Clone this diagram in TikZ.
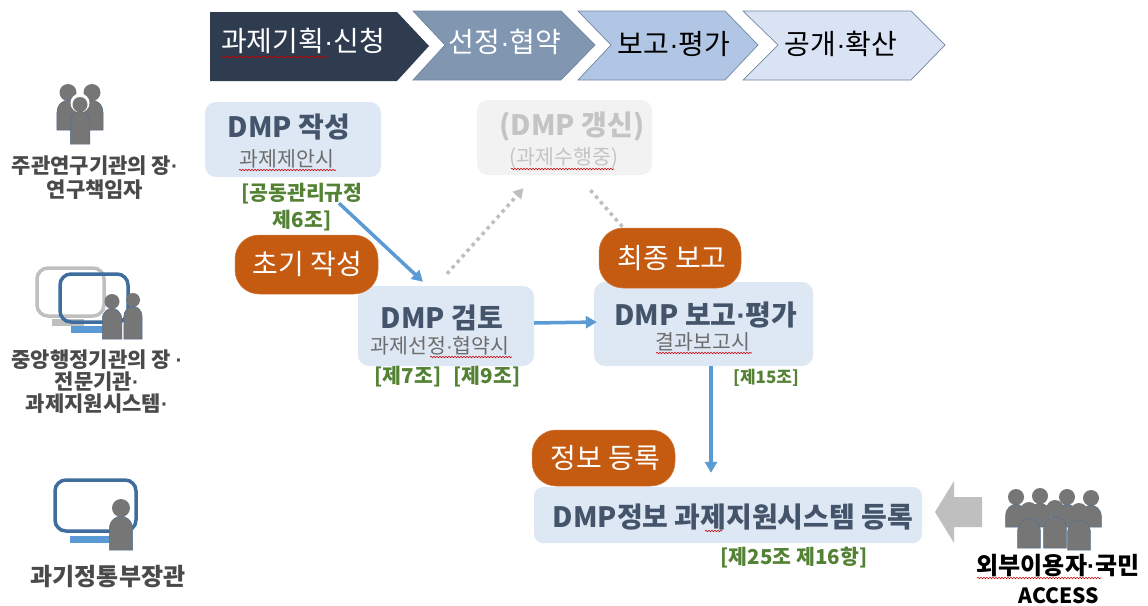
\documentclass[tikz,border=0pt]{standalone}
\usepackage{fontspec}
\setmainfont{Noto Sans CJK KR}
\newfontfamily\latf{Liberation Sans}
\newcommand{\dt}{{\latf ·}}
\usetikzlibrary{calc,arrows.meta,decorations.pathmorphing}
\definecolor{chA}{HTML}{2F3C50}
\definecolor{chB}{HTML}{8096B1}
\definecolor{chC}{HTML}{B1C5E4}
\definecolor{chD}{HTML}{D9E3F4}
\definecolor{chLine}{HTML}{71889F}
\definecolor{boxBlue}{HTML}{DEE8F4}
\definecolor{boxGray}{HTML}{F2F2F2}
\definecolor{orangeP}{HTML}{C55A11}
\definecolor{greenL}{HTML}{548235}
\definecolor{slate}{HTML}{44546A}
\definecolor{arrowB}{HTML}{5B9BD5}
\definecolor{grayA}{HTML}{BFBFBF}
\definecolor{grayT}{HTML}{C4C4C4}
\definecolor{iconG}{HTML}{767676}
\definecolor{frameB}{HTML}{3F6E9E}
\definecolor{labelG}{HTML}{4A4A4A}
\newcommand{\fs}[1]{\fontsize{#1}{#1}\selectfont}
\newcommand{\squig}[3]{\draw[red!80!black,line width=0.6pt,decorate,decoration={snake,amplitude=0.7,segment length=3}] (#1,#3) -- (#2,#3);}
\newcommand{\person}[4]{% cx, top of head, head radius, bottom
  \fill[iconG] (#1,#2+#3) circle[radius=#3];
  \fill[iconG,draw=frameB!70!iconG,line width=0.5pt] (#1-#3*1.3,#4) -- (#1-#3*1.3,#2+#3*3.4) .. controls (#1-#3*1.3,#2+#3*2.3) and (#1-#3*0.5,#2+#3*1.9) .. (#1,#2+#3*1.9) .. controls (#1+#3*0.5,#2+#3*1.9) and (#1+#3*1.3,#2+#3*2.3) .. (#1+#3*1.3,#2+#3*3.4) -- (#1+#3*1.3,#4) -- cycle;}
\tikzset{
  x=1pt,y=-1pt,
  chev/.style={draw=chLine,line width=0.7pt,line join=miter},
  chevtext/.style={inner sep=0pt,font=\fs{28}},
  card/.style={rounded corners=11pt,inner sep=0pt},
  title/.style={inner sep=0pt,text=slate,font=\fs{28}\bfseries},
  sub/.style={inner sep=0pt,text=gray!85!black,font=\fs{20.5}},
  pill/.style={fill=orangeP,draw=orangeP!80!white,line width=0.5pt,rounded corners=24pt,inner sep=0pt,text=white,font=\fs{28}},
  law/.style={inner sep=0pt,text=greenL,font=\fs{20.5}\bfseries,align=center},
  who/.style={inner sep=0pt,text=labelG,font=\fs{21}\bfseries,align=center},
  flow/.style={draw=arrowB,line width=3.5pt,-{Triangle[length=11pt,width=12pt]}},
  dots/.style={draw=grayA,line width=3.5pt,dash pattern=on 3.5pt off 4pt},
  frame/.style={rounded corners=11pt,line width=3.5pt,fill=none},
}
\begin{document}
\begin{tikzpicture}
\useasboundingbox (0,0) rectangle (1148,605);
\fill[white] (0,0) rectangle (1148,605);
% process chevrons
\draw[chev,fill=chD] (743,11)--(911,11)--(945,45)--(911,80)--(743,80)--(778,45)--cycle;
\draw[chev,fill=chC] (578,11)--(725,11)--(758,45)--(725,80)--(578,80)--(611,45)--cycle;
\draw[chev,fill=chB] (413,11)--(561,11)--(595,45)--(561,80)--(413,80)--(445,45)--cycle;
\fill[chA] (210,12)--(397,12)--(429,46)--(397,81)--(210,81)--cycle;
\node[chevtext,text=white] (ph1) at (303,41) {과제기획\dt 신청};
\node[chevtext,text=white] (ph2) at (505,42) {선정\dt 협약};
\node[chevtext,text=black] (ph3) at (674,44) {보고\dt 평가};
\node[chevtext,text=black] (ph4) at (841,44) {공개\dt 확산};
\squig{222}{327}{57}
% cards
\node[card,fill=boxBlue,minimum width=176pt,minimum height=75pt] (cA) at (293,139.5) {};
\node[card,fill=boxGray,minimum width=175pt,minimum height=75pt] (cG) at (564.5,137.5) {};
\node[card,fill=boxBlue,minimum width=176pt,minimum height=80pt] (cB) at (446,326) {};
\node[card,fill=boxBlue,minimum width=219pt,minimum height=84pt] (cC) at (703.5,324) {};
\node[card,fill=boxBlue,minimum width=388pt,minimum height=56pt,rounded corners=9pt] (cD) at (728,515) {};
\node[title] (tA) at (289,127) {DMP 작성};
\node[sub] (sA) at (287,159) {과제제안시};
\squig{239}{336}{170}
\node[title,text=grayT] (tG) at (572,127) {(DMP 갱신)};
\node[sub,text=grayT] (sG) at (564,158) {(과제수행중)};
\squig{511}{614}{169}
\node[title] (tB) at (442,318) {DMP 검토};
\node[sub] (sB) at (440,346) {과제선정\dt 협약시};
\squig{430}{512}{357}
\node[title] (tC) at (706,315) {DMP 보고\dt 평가};
\node[sub] (sC) at (703,342) {결과보고시};
\squig{656}{752}{353}
\node[title] (tD) at (733,517) {DMP정보 과제지원시스템 등록};
\squig{705}{722}{531}
% legal labels
\node[law,align=center] (l1) at (302,207) {[공동관리규정\\[5pt]제6조]};
\node[law] (l2) at (408,377) {[제7조]};
\node[law] (l3) at (487,377) {[제9조]};
\node[law,font=\fs{17}\bfseries] (l4) at (766,378) {[제15조]};
\node[law] (l5) at (794,558) {[제25조 제16항]};
% connectors
\draw[flow] ($(cA.south)+(46,26)$) -- ($(cB.north)+(-23,-4)$);
\draw[flow] (cB.east |- 0,323) -- ($(cC.west)+(3,-2)$);
\draw[flow] ($(cC.south)+(7.5,0)$) -- ($(cD.north)+(-17,-14)$);
\draw[dots,-{Triangle[length=10pt,width=11pt]}] ($(cB.north)+(1,-12)$) -- ($(cG.south)+(-41,13)$);
\draw[dots] ($(cG.south)+(26,15)$) -- ($(cG.south)+(60,54)$);
% badges
\node[pill,minimum width=143pt,minimum height=59pt] (pA) at (306.5,264.5) {\hspace{1.5pt}초기 작성};
\node[pill,minimum width=142pt,minimum height=60pt] (pB) at (670,258) {\hspace{4pt}최종 보고};
\node[pill,minimum width=143pt,minimum height=56pt] (pC) at (603.5,458) {\hspace{4pt}정보 등록};
% big arrow
\fill[grayA] (935,512)--(954,481)--(954,497)--(982,497)--(982,527)--(954,527)--(954,543)--cycle;
% icon 1
\person{68}{84}{8.5}{130}
\person{92}{84}{8.5}{130}
\fill[white] (80,103) circle[radius=9.5];
\person{80}{97}{7.5}{144}
% icon 2
\draw[frame,draw=grayA] (37,268) rectangle (104,316);
\fill[grayA] (52,319) rectangle (84,326);
\draw[frame,draw=frameB] (60,274) rectangle (128,322);
\fill[arrowB] (71,326) rectangle (105,333);
\person{112}{294}{7.5}{339}
\person{133}{293}{7}{339}
% icon 3
\draw[frame,draw=frameB] (55,480) rectangle (136,531);
\fill[arrowB] (70,536) rectangle (113,543);
\person{121}{499}{9}{550}
% crowd icon
\person{1016}{489}{8}{527}
\person{1040}{488}{8}{527}
\person{1067}{489}{8}{527}
\person{1091}{490}{8}{527}
\person{1029}{502}{8.8}{548}
\person{1055}{500}{8.8}{548}
\person{1079}{503}{8.8}{550}
% actors
\node[who] (w1) at (95,178) {주관연구기관의 장\dt\\[3pt]연구책임자};
\node[who] (w2) at (97,382) {중앙행정기관의 장 \dt\\[1pt]전문기관\dt\\[1pt]과제지원시스템\dt};
\node[who,font=\fs{24}\bfseries] (w3) at (108,577) {과기정통부장관};
\node[inner sep=0pt,align=center,font=\fs{24}\bfseries,text=black] (w4) at (1058,566) {외부이용자\dt 국민};
\node[inner sep=0pt,font=\fs{21}\bfseries,text=black] (w5) at (1059,596) {ACCESS};
\squig{977}{1101}{578}
\end{tikzpicture}
\end{document}
